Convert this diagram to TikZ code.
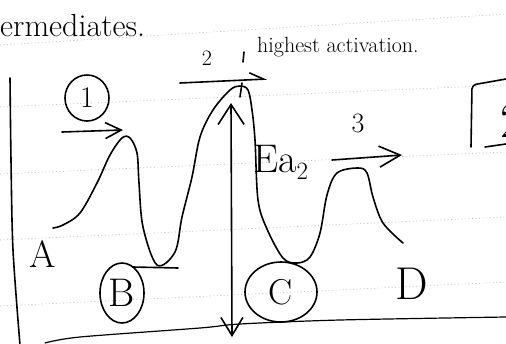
\documentclass[tikz,border=0pt]{standalone}
\usepackage{tikz}
\usetikzlibrary{positioning,arrows.meta,calc,shapes.geometric}

\begin{document}
\begin{tikzpicture}[
    x=1pt, y=-1pt,
    pen/.style={line width=1.6pt, line cap=round, line join=round},
    ruled/.style={gray!55, line width=0.6pt, dash pattern=on 1pt off 2.5pt},
    ring/.style={draw, ellipse, pen, inner sep=0pt},
    hand/.style={inner sep=0pt, font=\fontsize{#1}{#1}\selectfont},
    barb/.style={-{Straight Barb[length=#1, width=#1]}},
  ]
    \useasboundingbox (0,0) rectangle (506,343);
    \clip (0,0) rectangle (506,343);

    % ruled paper
    \foreach \ya/\yb in {45/14, 107/85, 174/152, 240/217, 306/282}
      \draw[ruled] (0,\ya) -- (506,\yb);

    % notes on top
    \node[hand=32, anchor=base west] (title) at (0,36) {ermediates.};
    \node[hand=22, anchor=base west] (high) at (257,52) {highest activation.};
    \node[hand=22] (two) at (207,58) {2};
    \draw[pen] (244,52) -- (243,62);

    % step markers
    \node[ring, minimum width=44, minimum height=46, hand=30] (one) at (87,98) {1};
    \coordinate (s1a) at (62,132);
    \coordinate (s1b) at (123,130);
    \draw[pen, barb=16pt] (s1a) -- (s1b);
    \coordinate (s2a) at (180,83);
    \coordinate (s2b) at (267,79);
    \draw[pen, -{Straight Barb[left, length=14pt, width=14pt]}] (s2a) -- (s2b);

    % energy profile
    \draw[pen] plot[smooth, tension=0.55] coordinates {
      (53,228) (63,225) (80,213) (97,183) (110,155) (122,138) (130,138)
      (137,153) (139,183) (143,227) (157,265) (175,252) (182,217)
      (192,177) (200,137) (213,110) (230,90) (240,86) (248,90) (252,110)
      (255,140) (258,200) (267,229) (283,258) (297,263) (310,257)
      (320,233) (327,195) (337,173) (358,168) (367,173) (373,197)
      (383,223) (403,243)};
    \draw[pen] (133,267) -- (178,268);
    \draw[pen] (242,83) -- (240,97);

    % species
    \node[hand=38] (A) at (43,254) {A};
    \node[ring, minimum width=44, minimum height=60, hand=40] (B) at (122,293) {B};
    \node[ring, minimum width=72, minimum height=60, hand=36] (C) at (281,292) {C};
    \node[hand=46] (D) at (412,284) {D};

    % activation energy
    \coordinate (top) at (231,103);
    \coordinate (bot) at (232,337);
    \draw[pen, {Straight Barb[length=20pt, width=26pt]}-{Straight Barb[length=18pt, width=22pt]}] (top) -- (bot);
    \node[hand=40, anchor=base west] (ea) at (253,172) {Ea$_2$};
    \coordinate (s3a) at (332,160);
    \coordinate (s3b) at (402,155);
    \draw[pen, barb=21pt] (s3a) -- (s3b);
    \node[hand=28] (three) at (358,123) {3};

    % frame
    \draw[pen] plot[smooth] coordinates {(10,78) (11,160) (13,250) (20,345)};
    \draw[pen, line width=1.2pt] plot[smooth] coordinates {(45,343) (80,337) (200,328) (240,324) (340,320) (506,317)};
    \draw[pen, rounded corners=4pt] (471,147) -- (472,85) -- (506,79);
    \node[hand=50] (box2) at (512,121) {2};
    \draw[pen] (485,147) -- (506,144);
  \end{tikzpicture}
\end{document}
